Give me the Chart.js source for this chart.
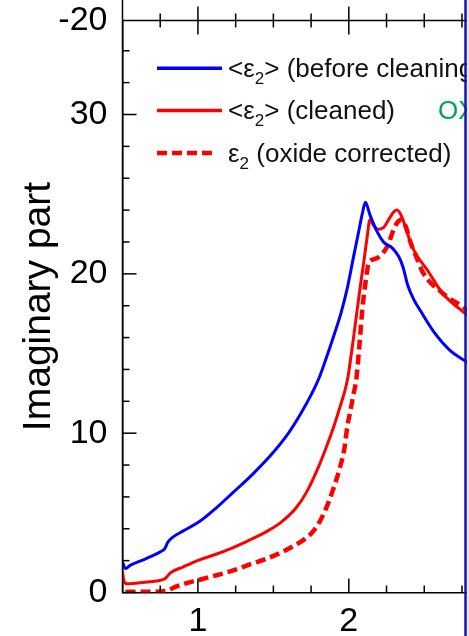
<!DOCTYPE html>
<html><head><meta charset="utf-8">
<script src="https://cdn.jsdelivr.net/npm/chart.js@4/dist/chart.umd.min.js"></script>
<style>html,body{margin:0;padding:0;background:#fff;overflow:hidden}canvas{display:block}</style>
</head><body>
<canvas id="c" width="469" height="636"></canvas>
<script>
// ---- data (photon energy, imaginary part) ----
const beforeX = [0.50,0.52,0.55,0.65,0.75,0.78,0.80,0.83,0.90,1.01,1.12,1.23,1.36,1.50,1.60,1.68,1.75,1.80,1.85,1.90,1.95,1.99,2.03,2.06,2.09,2.11,2.14,2.19,2.23,2.29,2.33,2.36,2.39,2.43,2.48,2.56,2.67,2.76,2.79];
const beforeY = [1.9,1.5,1.7,2.1,2.55,2.75,3.15,3.45,3.85,4.45,5.3,6.25,7.4,8.8,10.0,11.2,12.4,13.4,14.7,16.1,17.6,19.1,21.0,22.4,23.8,24.5,23.7,22.6,22.0,21.6,21.1,20.4,19.3,18.4,17.6,16.4,15.2,14.6,14.4];

const cleanedX = [0.50,0.51,0.53,0.65,0.78,0.80,0.82,0.90,1.01,1.12,1.23,1.30,1.40,1.46,1.55,1.65,1.72,1.80,1.85,1.90,1.94,1.99,2.03,2.07,2.10,2.12,2.14,2.16,2.19,2.23,2.27,2.30,2.32,2.35,2.38,2.42,2.53,2.62,2.76,2.79];
const cleanedY = [1.3,0.7,0.55,0.65,0.85,1.05,1.25,1.6,2.05,2.4,2.8,3.1,3.55,3.85,4.4,5.3,6.3,7.9,9.1,10.4,11.6,13.3,15.9,18.8,20.8,22.2,23.4,23.1,22.8,22.9,23.5,23.9,24.0,23.6,22.8,21.7,20.1,18.8,17.6,17.4];

const oxideX = [0.52,0.60,0.70,0.79,0.85,0.93,1.03,1.13,1.24,1.34,1.45,1.56,1.63,1.70,1.76,1.81,1.85,1.89,1.94,1.97,1.99,2.01,2.03,2.05,2.07,2.09,2.11,2.13,2.16,2.19,2.225,2.26,2.29,2.32,2.35,2.38,2.41,2.45,2.49,2.62,2.76,2.79];
const oxideY = [0.05,0.05,0.05,0.1,0.35,0.6,0.85,1.1,1.4,1.75,2.1,2.55,2.9,3.3,3.8,4.5,5.3,6.3,7.8,9.0,10.4,11.4,12.4,13.4,15.5,17.8,19.4,20.6,20.9,21.0,21.3,21.8,22.6,23.2,23.4,22.9,21.95,21.0,20.1,18.8,17.9,17.7];

// ---- ticks & labels ----
const xTickValues = [0.75,1,1.25,1.5,1.75,2,2.25,2.5,2.75];
const xTickLabels = {1:'1', 2:'2'};
const yTickValues = [0,2,4,6,8,10,12,14,16,18,20,22,24,26,28,30,32,34];
const yTickLabels = {0:'0', 10:'10', 20:'20', 30:'30'};
const upperPanelLabel = '-20';
const yTitle = 'Imaginary part';
const legendLabels = [
  ['<ε', '2', '> (before cleaning)'],
  ['<ε', '2', '> (cleaned)'],
  ['ε', '2', ' (oxide corrected)']
];
const sideNote = 'OX';

const FONT = '"Liberation Sans", Arial, sans-serif';
const BLUE = '#0000ff', RED = '#ff0000';

const pts = (xs, ys) => xs.map((v, i) => ({x: v, y: ys[i]}));

const framePlugin = {
  id: 'frame',
  afterDraw(chart) {
    const {ctx, chartArea: a, scales: {x, y}} = chart;
    const seg = (x1, y1, x2, y2) => { ctx.beginPath(); ctx.moveTo(x1, y1); ctx.lineTo(x2, y2); ctx.stroke(); };
    ctx.save();
    ctx.strokeStyle = '#000';
    ctx.lineWidth = 1.5;
    seg(a.left, 0, a.left, a.bottom);
    seg(a.left, a.top, a.right, a.top);
    x.ticks.forEach(t => {
      const px = x.getPixelForValue(t.value);
      const L = Number.isInteger(t.value) ? 14 : 7;
      seg(px, a.bottom, px, a.bottom - L);
      seg(px, a.top - L, px, a.top + L);
    });
    y.ticks.forEach(t => {
      const py = y.getPixelForValue(t.value);
      const L = (t.value % 10 === 0) ? 14 : 7;
      seg(a.left, py, a.left + L, py);
    });
    ctx.fillStyle = '#000';
    ctx.font = '34px ' + FONT;
    ctx.textAlign = 'right';
    ctx.textBaseline = 'middle';
    ctx.fillText(upperPanelLabel, a.left - 15, a.top);

    // legend
    const rows = [68.3, 110.5, 153];
    const styles = [
      {c: BLUE, w: 3.5, dash: [], x2: 222},
      {c: RED, w: 3.5, dash: [], x2: 222},
      {c: RED, w: 4.5, dash: [10, 5], x2: 213}
    ];
    ctx.textAlign = 'left';
    ctx.textBaseline = 'alphabetic';
    legendLabels.forEach((parts, i) => {
      const s = styles[i], ry = rows[i];
      ctx.strokeStyle = s.c; ctx.lineWidth = s.w; ctx.setLineDash(s.dash);
      seg(157, ry, s.x2, ry);
      ctx.setLineDash([]);
      ctx.fillStyle = '#111';
      let tx = 228;
      ctx.font = '26px ' + FONT;
      ctx.fillText(parts[0], tx, ry + 8.5); tx += ctx.measureText(parts[0]).width;
      ctx.font = '17px ' + FONT;
      ctx.fillText(parts[1], tx, ry + 15.5); tx += ctx.measureText(parts[1]).width;
      ctx.font = '26px ' + FONT;
      ctx.fillText(parts[2], tx, ry + 8.5);
    });
    ctx.fillStyle = '#00a651';
    ctx.font = '26px ' + FONT;
    ctx.fillText(sideNote, 438, rows[1] + 8.5);

    // crop edge: blue frame line + tinted strip
    ctx.fillStyle = '#e8e8f6';
    ctx.fillRect(467, 0, 2, chart.height);
    ctx.strokeStyle = '#1414b4';
    ctx.lineWidth = 2.5;
    seg(465.5, 0, 465.5, chart.height);
    ctx.restore();
  }
};

new Chart(document.getElementById('c'), {
  type: 'line',
  data: {
    datasets: [
      {label: '<ε2> (before cleaning)', data: pts(beforeX, beforeY), borderColor: BLUE, borderWidth: 3, pointRadius: 0, cubicInterpolationMode: 'monotone', fill: false},
      {label: '<ε2> (cleaned)', data: pts(cleanedX, cleanedY), borderColor: RED, borderWidth: 3, pointRadius: 0, cubicInterpolationMode: 'monotone', fill: false},
      {label: 'ε2 (oxide corrected)', data: pts(oxideX, oxideY), borderColor: RED, borderWidth: 4.5, borderDash: [10, 5], pointRadius: 0, cubicInterpolationMode: 'monotone', fill: false}
    ]
  },
  options: {
    responsive: false,
    animation: false,
    devicePixelRatio: 1,
    layout: {padding: {top: 20.5, right: 1, left: 0, bottom: 0}},
    plugins: {legend: {display: false}, tooltip: {enabled: false}, title: {display: false}},
    scales: {
      x: {
        type: 'linear', min: 0.5, max: 2.79,
        afterBuildTicks: s => { s.ticks = xTickValues.map(v => ({value: v})); },
        afterFit: s => { s.height = 43.5; s.paddingLeft = 0; s.paddingRight = 0; s.paddingTop = 0; s.paddingBottom = 0; },
        grid: {display: true, drawOnChartArea: false, drawTicks: false},
        border: {display: true, color: '#000', width: 1.5},
        ticks: {autoSkip: false, maxRotation: 0, padding: 8.6, color: '#000', font: {family: FONT, size: 34},
                callback: v => xTickLabels[v] || ''}
      },
      y: {
        type: 'linear', min: 0, max: 35.9,
        afterBuildTicks: s => { s.ticks = yTickValues.map(v => ({value: v})); },
        afterFit: s => { s.width = 122.5; s.paddingTop = 0; s.paddingBottom = 0; s.paddingLeft = 0; s.paddingRight = 0; },
        grid: {display: true, drawOnChartArea: false, drawTicks: false},
        border: {display: true, color: '#000', width: 1.5},
        title: {display: true, text: yTitle, color: '#000', font: {family: FONT, size: 39}, padding: {top: 16, bottom: 0}},
        ticks: {autoSkip: false, padding: 15, color: '#000', font: {family: FONT, size: 34},
                callback: v => yTickLabels[v] || ''}
      }
    }
  },
  plugins: [framePlugin]
});
</script>
</body></html>
